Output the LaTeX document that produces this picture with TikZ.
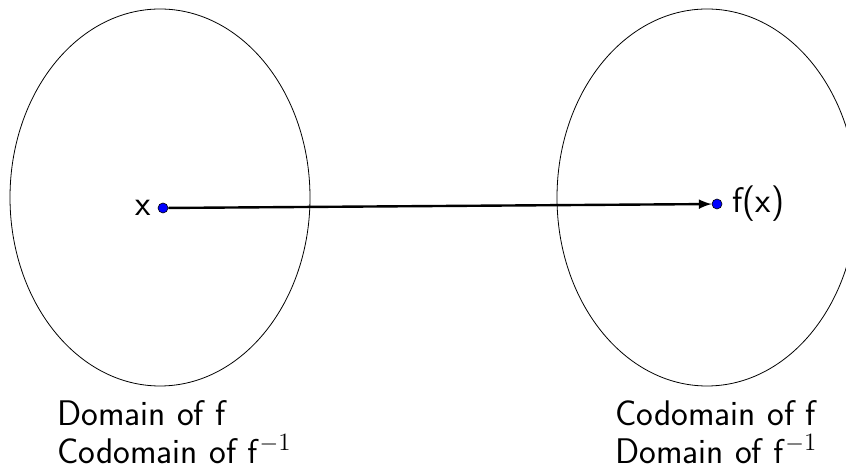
\documentclass[tikz,border=0pt]{standalone}
\usepackage{amsmath}
\usepackage{fontspec}
\usepackage{sansmath}
\usepackage{xcolor}
\usepackage{tikz}
\usetikzlibrary{arrows,positioning}

\tikzset{dot/.style={circle,draw=black,line width=0.3pt,fill=blue,inner sep=0pt,minimum size=5pt}}

\begin{document}
\begin{tikzpicture}[x=0.5pt,y=0.5pt,font=\sffamily\sansmath\fontsize{17.8}{19}\selectfont]
\useasboundingbox (0,0) rectangle (846,476);

  \draw[line width=0.4pt] (160,278.5) ellipse (150 and 188.5);
  \draw[line width=0.4pt] (707,278.5) ellipse (150 and 188.5);

  \node[dot]		   (X) at (163,268)	{};
  \node[dot]           (FX) at (717,272)	{};
  \node[left=3pt of X,inner sep=0pt]	(LX) {x};
  \node[right=5pt of FX,inner sep=0pt]	(LFX) {f(x)};

  \path [->,>=latex, line width=1.2pt]
  (X) edge              node {} (FX);

  \node[anchor=north west,align=left,inner sep=0pt] (DL) at (57,76)  {Domain of f\\Codomain of $\mathsf{f}^{-1}$};
  \node[anchor=north west,align=left,inner sep=0pt] (DR) at (615,76) {Codomain of f\\Domain of $\mathsf{f}^{-1}$};

\end{tikzpicture}
\end{document}
